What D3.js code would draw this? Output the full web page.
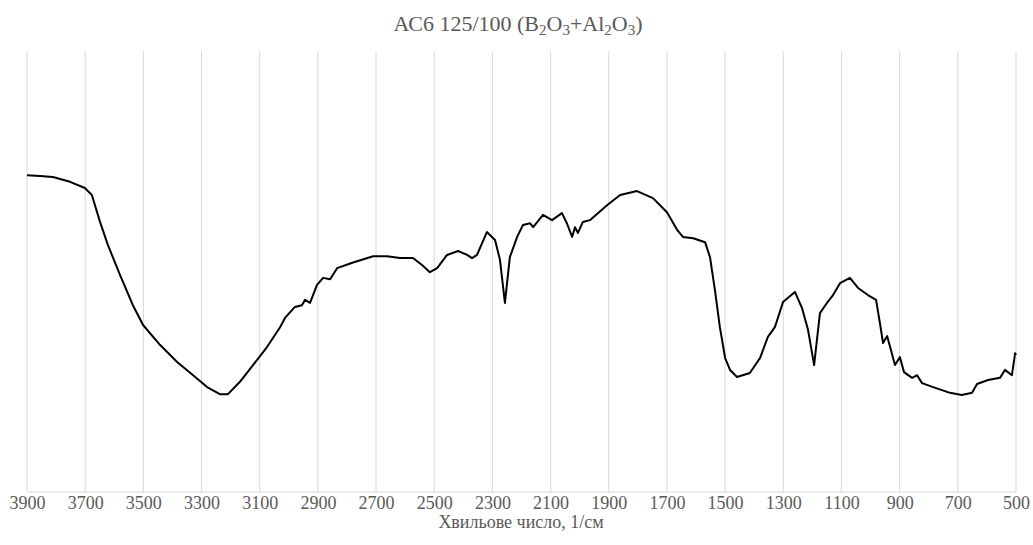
<!DOCTYPE html>
<html>
<head>
<meta charset="utf-8">
<script src="https://cdn.jsdelivr.net/npm/d3@7"></script>
<style>
  body { margin: 0; background: #fff; }
  text { font-family: "Liberation Serif", "Times New Roman", serif; fill: #595959; }
</style>
</head>
<body>
<svg id="chart"></svg>
<script>
// wavenumber, 1/cm
const wavenumbers = [
  3900, 3855, 3811, 3752, 3701, 3677, 3649, 3622, 3580, 3536,
  3501, 3443, 3384, 3329, 3281, 3237, 3209, 3168, 3123, 3075,
  3030, 3013, 2979, 2955, 2944, 2927, 2903, 2882, 2858, 2834,
  2779, 2710, 2662, 2618, 2573, 2542, 2515, 2490, 2456, 2418,
  2387, 2370, 2353, 2319, 2291, 2274, 2257, 2240, 2215, 2195,
  2171, 2160, 2126, 2095, 2061, 2044, 2026, 2016, 2006, 1989,
  1965, 1906, 1861, 1803, 1748, 1700, 1665, 1645, 1610, 1569,
  1552, 1535, 1518, 1500, 1483, 1459, 1415, 1380, 1353, 1329,
  1301, 1260, 1236, 1215, 1194, 1174, 1150, 1129, 1105, 1071,
  1043, 1009, 981, 968, 957, 943, 916, 899, 885, 857,
  840, 823, 785, 727, 686, 651, 634, 596, 555, 538,
  514, 503, 500
];
// transmittance, arbitrary units
const transmittance = [
  71.8, 71.6, 71.4, 70.3, 68.9, 67.3, 61.2, 56.0, 49.1, 42.3,
  37.8, 33.3, 29.4, 26.4, 23.7, 22.1, 22.1, 24.9, 28.7, 32.8,
  37.3, 39.4, 41.9, 42.3, 43.5, 42.8, 46.9, 48.5, 48.2, 50.7,
  52.0, 53.4, 53.4, 53.0, 53.0, 51.4, 49.8, 50.7, 53.7, 54.6,
  53.7, 53.0, 53.7, 58.9, 57.1, 52.6, 42.8, 53.2, 57.8, 60.5,
  60.9, 60.0, 62.8, 61.6, 63.2, 60.9, 57.8, 60.0, 58.7, 61.2,
  61.6, 65.0, 67.3, 68.2, 66.6, 63.4, 59.4, 57.8, 57.5, 56.6,
  53.2, 45.7, 37.3, 30.3, 27.6, 26.0, 26.9, 30.3, 35.1, 37.3,
  43.0, 45.3, 41.7, 36.7, 28.7, 40.5, 42.8, 44.6, 47.3, 48.5,
  46.2, 44.6, 43.5, 38.3, 33.7, 35.3, 28.7, 30.5, 27.1, 25.8,
  26.4, 24.6, 23.7, 22.4, 21.9, 22.4, 24.4, 25.3, 25.8, 27.6,
  26.4, 31.4, 31.0
];
const xTicks = [3900, 3700, 3500, 3300, 3100, 2900, 2700, 2500, 2300, 2100, 1900, 1700, 1500, 1300, 1100, 900, 700, 500];
const xLabel = "Хвильове число, 1/см";

const W = 1033, H = 545;
const margin = { top: 51, right: 17, bottom: 53.5, left: 27 },
    width = W - margin.left - margin.right,
    height = H - margin.top - margin.bottom;

const svg = d3.select("#chart").attr("width", W).attr("height", H);

const x = d3.scaleLinear().domain([3900, 500]).range([0, width]);
const y = d3.scaleLinear().domain([0, 100]).range([height, 0]);

const g = svg.append("g")
    .attr("transform", "translate(" + margin.left + "," + margin.top + ")");

// vertical gridlines
g.append("g")
    .selectAll("line")
    .data(xTicks)
    .enter().append("line")
    .attr("x1", d => x(d)).attr("x2", d => x(d))
    .attr("y1", 0).attr("y2", height)
    .attr("stroke", "#d9d9d9")
    .attr("stroke-width", 1);

// x axis
const xAxis = g.append("g")
    .attr("transform", "translate(0," + height + ")")
    .call(d3.axisBottom(x).tickValues(xTicks).tickSize(0).tickPadding(5).tickFormat(d3.format("d")));
xAxis.attr("font-family", null).attr("font-size", null);
xAxis.select(".domain").attr("stroke", "#d9d9d9");
xAxis.selectAll("text").style("font-size", "18px").attr("fill", "#595959");

// spectrum
const pts = wavenumbers.map((w, i) => [w, transmittance[i]]);
g.append("path")
    .datum(pts)
    .attr("fill", "none")
    .attr("stroke", "#000")
    .attr("stroke-width", 2)
    .attr("stroke-linejoin", "round")
    .attr("d", d3.line().x(d => x(d[0])).y(d => y(d[1])));

// title with subscripts
const title = svg.append("text")
    .attr("x", 518).attr("y", 31)
    .attr("text-anchor", "middle")
    .style("font-size", "22px");
const parts = [["АС6 125/100 (B", 0], ["2", 1], ["O", 0], ["3", 1], ["+Al", 0], ["2", 1], ["O", 0], ["3", 1], [")", 0]];
parts.forEach(([t, sub]) => {
  title.append("tspan")
      .attr("baseline-shift", sub ? "-25%" : null)
      .style("font-size", sub ? "15px" : null)
      .text(t);
});

// axis title
svg.append("text")
    .attr("x", 521).attr("y", 528)
    .attr("text-anchor", "middle")
    .style("font-size", "18px")
    .text(xLabel);
</script>
</body>
</html>
